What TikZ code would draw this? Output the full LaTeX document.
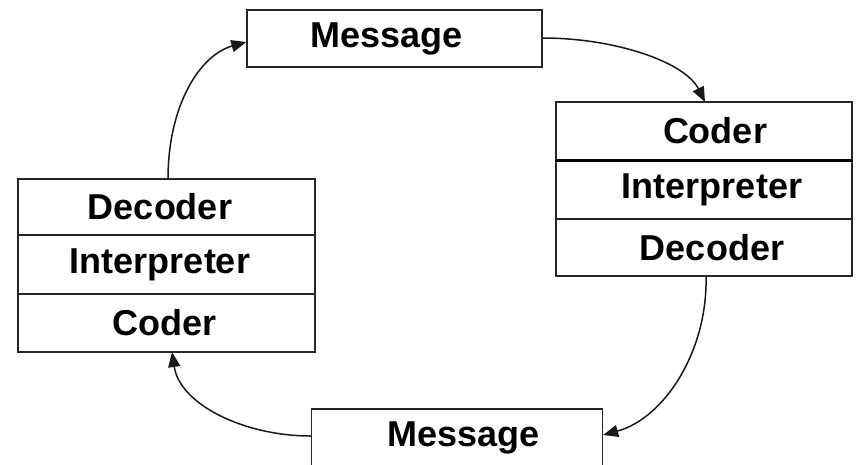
\documentclass[tikz,border=0pt]{standalone}
\usepackage{fontspec}
\setmainfont{Liberation Sans}
\usetikzlibrary{arrows.meta}
\begin{document}
\begin{tikzpicture}[x=1pt,y=-1pt,
  cell/.style={draw=black!85,line width=1.3pt,rectangle,inner sep=0pt,
    font=\fontsize{36}{40}\selectfont\bfseries},
  conn/.style={draw=black!90,line width=1.5pt,-{Triangle[length=15pt,width=12pt]}}]
\useasboundingbox[fill=white] (0,0) rectangle (858,464);
% top message
\node[cell,minimum width=295pt,minimum height=57pt] (m1) at (394.5,38.5) {\hspace{-16pt}Message};
% right stack
\node[cell,minimum width=296pt,minimum height=58pt] (rc) at (704,131) {\hspace{22pt}Coder};
\node[cell,minimum width=296pt,minimum height=59pt] (ri) at (704,189.5) {\hspace{16pt}Interpreter};
\node[cell,minimum width=296pt,minimum height=57pt] (rd) at (704,247.5) {\hspace{16pt}Decoder};
\draw[line width=2.8pt] (rc.south west) -- (rc.south east);
% left stack
\node[cell,minimum width=297pt,minimum height=56pt] (ld) at (166.5,207) {\hspace{-13pt}Decoder};
\node[cell,minimum width=297pt,minimum height=59pt] (li) at (166.5,264.5) {\hspace{-13pt}Interpreter};
\node[cell,minimum width=297pt,minimum height=58pt] (lc) at (166.5,323) {\hspace{-3pt}Coder};
% bottom message
\node[cell,minimum width=291pt,minimum height=57pt] (m2) at (457,437.5) {\hspace{13pt}Message};
% connectors
\coordinate (a1) at (705,102);
\coordinate (a2) at (706,276);
\coordinate (a3) at (172,352);
\coordinate (a4) at (168,179);
\draw[conn] (m1.east |- 0,38) .. controls (615,38) and (685,62) .. (a1);
\draw[conn] (a2) .. controls (708,350) and (665,418) .. (m2.east |- 0,435);
\draw[conn] (m2.west |- 0,436) .. controls (245,436) and (180,405) .. (a3);
\draw[conn] (a4) .. controls (168,105) and (200,55) .. (m1.west |- 0,42);
\end{tikzpicture}
\end{document}
